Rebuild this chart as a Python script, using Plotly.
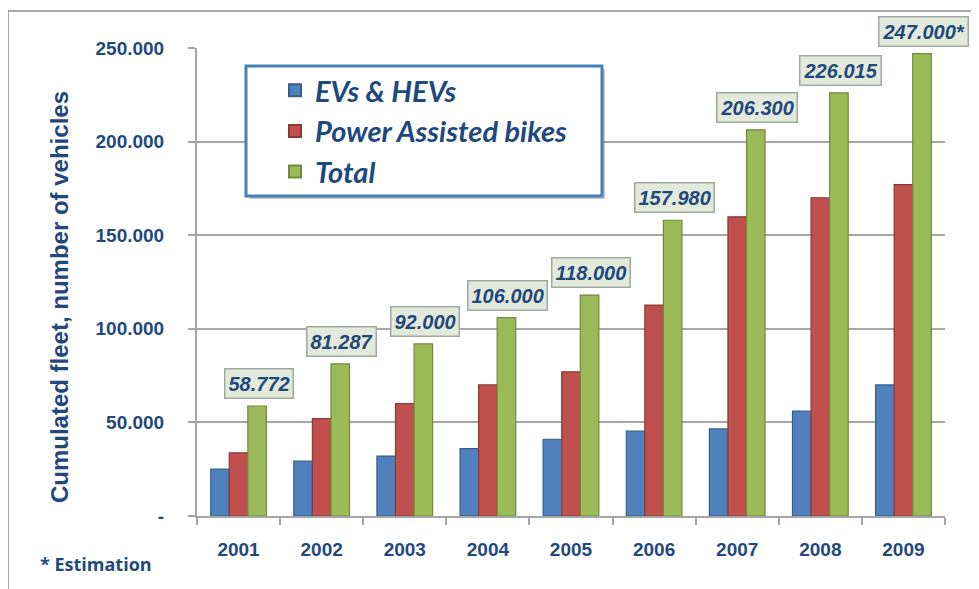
import plotly.graph_objects as go

years = ["2001", "2002", "2003", "2004", "2005", "2006", "2007", "2008", "2009"]
evs_hevs = [25000, 29300, 32000, 36000, 41000, 45300, 46500, 56000, 70000]
power_bikes = [33772, 51987, 60000, 70000, 77000, 112680, 159800, 170015, 177000]
total = [58772, 81287, 92000, 106000, 118000, 157980, 206300, 226015, 247000]
total_labels = ["58.772", "81.287", "92.000", "106.000", "118.000", "157.980", "206.300", "226.015", "247.000*"]
y_tickvals = [0, 50000, 100000, 150000, 200000, 250000]
y_ticktext = ["-", "50.000", "100.000", "150.000", "200.000", "250.000"]

DARK = "#1F497D"
SANS = "Liberation Sans, Arial"
fig = go.Figure()
fig.add_trace(go.Bar(name="EVs & HEVs", x=years, y=evs_hevs,
                     marker=dict(color="#4F81BD", line=dict(color="#385D8A", width=1.2))))
fig.add_trace(go.Bar(name="Power Assisted bikes", x=years, y=power_bikes,
                     marker=dict(color="#C0504D", line=dict(color="#8C3836", width=1.2))))
fig.add_trace(go.Bar(name="Total", x=years, y=total,
                     marker=dict(color="#9BBB59", line=dict(color="#71893F", width=1.2))))

for i, (val, lab) in enumerate(zip(total, total_labels)):
    fig.add_annotation(x=i, y=val, text="<b><i>" + lab + "</i></b>", showarrow=False,
                       yanchor="bottom", yshift=7, xshift=20,
                       font=dict(family=SANS, size=20, color=DARK),
                       bgcolor="#E4EADB", bordercolor="#A0A8A0", borderwidth=1.5, borderpad=3)

# y-axis title
fig.add_annotation(xref="paper", yref="paper", x=-0.183, y=0.468, xanchor="center", yanchor="middle",
                   text="<b>Cumulated fleet, number of vehicles</b>", textangle=-90, showarrow=False,
                   font=dict(family=SANS, size=24, color=DARK))

fig.add_annotation(xref="paper", yref="paper", x=-0.212, y=-0.1026, xanchor="left", yanchor="middle",
                   text="<b>* Estimation</b>", showarrow=False,
                   font=dict(family="Open Sans", size=18, color=DARK))

# outer frame
fig.add_shape(type="rect", xref="paper", yref="paper", x0=-0.2527, x1=1.2, y0=-0.3, y1=1.079,
              line=dict(color="#8C8C8C", width=1.5), layer="below")
# legend box (shadow + frame)
fig.add_shape(type="rect", xref="paper", yref="paper", x0=0.0695, x1=0.5454, y0=0.6774, y1=0.9551,
              line=dict(width=0), fillcolor="rgba(90,90,90,0.35)", layer="above")
fig.add_shape(type="rect", xref="paper", yref="paper", x0=0.0655, x1=0.5414, y0=0.6838, y1=0.9615,
              line=dict(color="#4A7EBB", width=3), fillcolor="white", layer="above")

fig.update_layout(
    width=971, height=581,
    margin=dict(l=189, r=34, t=40, b=73),
    paper_bgcolor="white", plot_bgcolor="white",
    barmode="group", bargap=0.33, bargroupgap=0,
    legend=dict(x=0.1043, y=0.964, xanchor="left", yanchor="top",
                bgcolor="rgba(0,0,0,0)", borderwidth=0,
                font=dict(family="Lato", size=29, color=DARK),
                itemsizing="constant"),
    showlegend=True,
)
fig.update_xaxes(type="category", range=[-0.5, 8.5], showgrid=False, showline=True,
                 linecolor="#A6A6A6", linewidth=2, tickson="boundaries",
                 ticks="outside", ticklen=7, tickcolor="#A6A6A6", tickwidth=1.5,
                 tickfont=dict(family=SANS, size=19, color=DARK),
                 tickprefix="<b>", ticksuffix="</b>", ticklabelstandoff=15)
fig.update_yaxes(range=[0, 250000], tickvals=y_tickvals, ticktext=["<b>" + t + "</b>" for t in y_ticktext],
                 showgrid=True, gridcolor="#A6A6A6", gridwidth=1.5,
                 showline=True, linecolor="#A6A6A6", linewidth=2,
                 ticks="outside", ticklen=7, tickcolor="#A6A6A6", tickwidth=1.5, ticklabelstandoff=20,
                 tickfont=dict(family=SANS, size=19, color=DARK))

fig.for_each_trace(lambda t: t.update(name="<b><i>" + t.name + "</i></b>"))
fig.write_html("out.html")
